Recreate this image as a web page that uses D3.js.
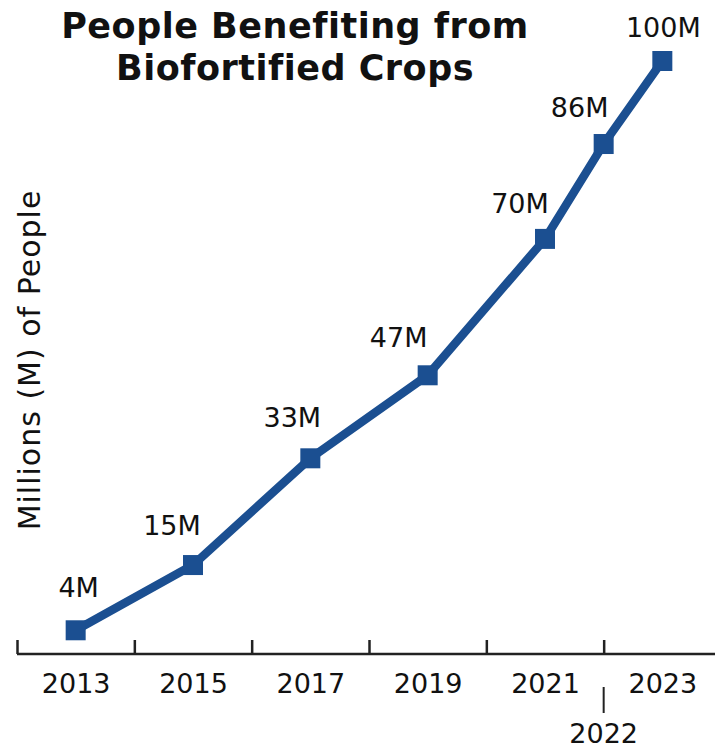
<!DOCTYPE html>
<html><head><meta charset="utf-8">
<script src="https://cdn.jsdelivr.net/npm/d3@7"></script>
<style>
body{margin:0;background:#fff;}
text{font-family:"DejaVu Sans","Noto Sans",sans-serif;fill:#111;}
</style></head>
<body>
<svg id="chart" width="715" height="750"></svg>
<script>
const years = [2013, 2015, 2017, 2019, 2021, 2022, 2023];
const people = [4, 15, 33, 47, 70, 86, 100];
const pointLabels = ["4M", "15M", "33M", "47M", "70M", "86M", "100M"];
const gridTickYears = [2012, 2014, 2016, 2018, 2020, 2022];
const labelYears = [2013, 2015, 2017, 2019, 2021, 2023];
const titleLines = ["People Benefiting from", "Biofortified Crops"];
const yTitle = "Millions (M) of People";

// label offsets (dx, dy) relative to each point
const labelOffsets = [[3,-33],[-21,-30],[-18,-31],[-29,-28],[-25,-26],[-24,-27],[1,-24]];

const svg = d3.select("#chart");
const x = d3.scaleLinear().domain([2012, 2024]).range([17, 721]);
const y = d3.scaleLinear().domain([0, 100]).range([654, 61]);
const blue = "#1b4f91";

// axis with upward ticks
const axisG = svg.append("g").attr("transform", "translate(0,654)")
  .call(d3.axisBottom(x).tickValues(gridTickYears).tickSize(-14).tickSizeOuter(0).tickFormat(""));
axisG.select(".domain").attr("stroke", "#222").attr("stroke-width", 2.5).attr("d", "M17,0H715");
axisG.selectAll(".tick line").attr("stroke", "#222").attr("stroke-width", 2.5);

// year labels
const labG = svg.append("g").attr("transform", "translate(0,654)")
  .call(d3.axisBottom(x).tickValues(labelYears).tickSize(0).tickPadding(0).tickFormat(d3.format("d")));
labG.select(".domain").remove();
labG.selectAll(".tick text").attr("dy", null).attr("y", 39)
  .style("font-size", "27px").style("font-family", "DejaVu Sans, sans-serif").attr("fill", "#111");

// 2022 extra label
svg.append("line").attr("x1", x(2022)).attr("x2", x(2022)).attr("y1", 687).attr("y2", 713)
  .attr("stroke", "#222").attr("stroke-width", 2);
svg.append("text").attr("x", x(2022)).attr("y", 743).attr("text-anchor", "middle")
  .style("font-size", "27px").text("2022");

// line
const data = years.map((yr, i) => ({yr, v: people[i], lab: pointLabels[i], off: labelOffsets[i]}));
svg.append("path").datum(data)
  .attr("d", d3.line().x(d => x(d.yr)).y(d => y(d.v)))
  .attr("fill", "none").attr("stroke", blue).attr("stroke-width", 8.5);

svg.selectAll("rect.pt").data(data).join("rect").attr("class", "pt")
  .attr("x", d => x(d.yr) - 10).attr("y", d => y(d.v) - 10)
  .attr("width", 20).attr("height", 20).attr("fill", blue);

svg.selectAll("text.pl").data(data).join("text").attr("class", "pl")
  .attr("x", d => x(d.yr) + d.off[0]).attr("y", d => y(d.v) + d.off[1])
  .attr("text-anchor", "middle").style("font-size", "27px").text(d => d.lab);

// title
svg.selectAll("text.title").data(titleLines).join("text").attr("class", "title")
  .attr("x", 295).attr("y", (d, i) => 38 + i * 42).attr("text-anchor", "middle")
  .style("font-size", "35px").style("font-weight", "bold").style("letter-spacing", "0.5px").text(d => d);

// y title
svg.append("text").attr("transform", "translate(40,360) rotate(-90)")
  .attr("text-anchor", "middle").style("font-size", "30px").style("letter-spacing", "1px").text(yTitle);
</script>
</body></html>
